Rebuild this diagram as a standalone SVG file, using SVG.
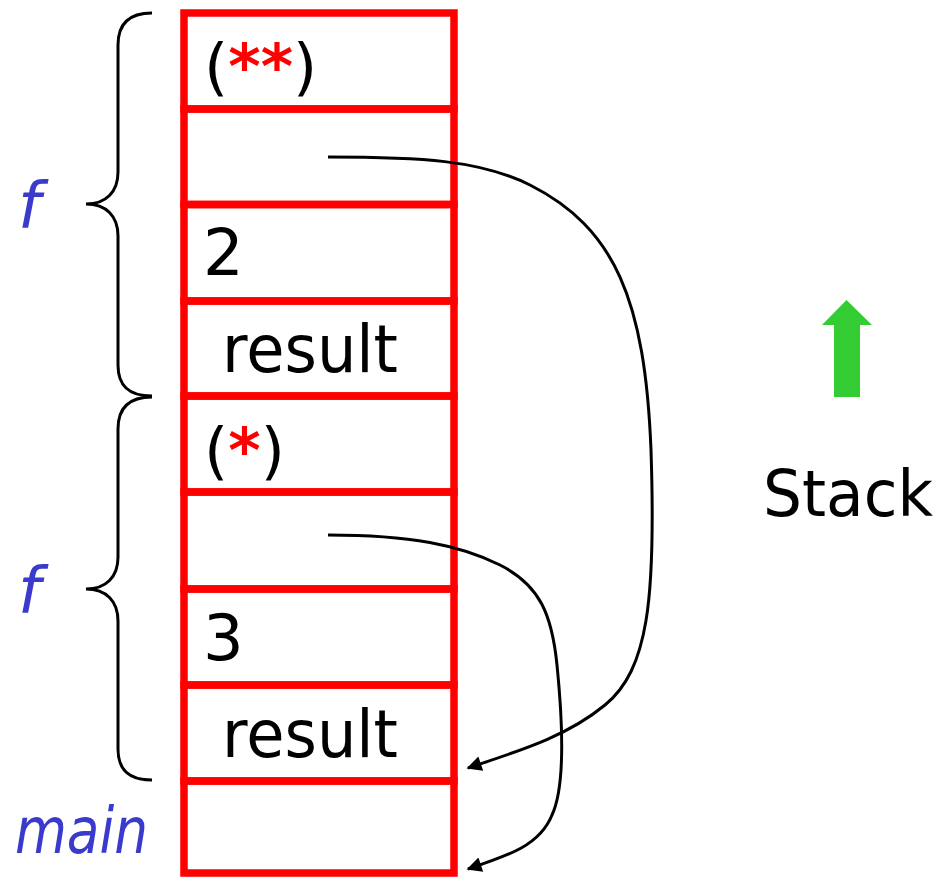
<svg xmlns="http://www.w3.org/2000/svg" width="943" height="877" viewBox="0 0 943 877">
<style>
.cell{fill:none;stroke:#ff0000;stroke-width:7.5}
.t{font-family:"DejaVu Sans","Liberation Sans",sans-serif;fill:#000}
.star{fill:#ff0000;font-weight:bold}
.lbl{font-family:"DejaVu Sans","Liberation Sans",sans-serif;font-style:italic;fill:#3a3acc}
.brace{fill:none;stroke:#000;stroke-width:3}
.conn{fill:none;stroke:#000;stroke-width:3}
</style>
<defs>
<marker id="ah" viewBox="0 0 10 10" refX="9" refY="5" markerWidth="6" markerHeight="5" markerUnits="strokeWidth" orient="auto">
<path d="M0,0 L10,5 L0,10 z" fill="#000"/>
</marker>
</defs>
<rect width="943" height="877" fill="#fff"/>
<g id="cell1"><rect class="cell" x="184" y="13" width="270" height="96"/><text class="t" x="204" y="88" font-size="62">(<tspan class="star">**</tspan>)</text></g>
<g id="cell2"><rect class="cell" x="184" y="109" width="270" height="95.5"/></g>
<g id="cell3"><rect class="cell" x="184" y="204.5" width="270" height="96.5"/><text class="t" x="203" y="275" font-size="64">2</text></g>
<g id="cell4"><rect class="cell" x="184" y="301" width="270" height="95"/><text class="t" x="222" y="372" font-size="66" textLength="176" lengthAdjust="spacingAndGlyphs">result</text></g>
<g id="cell5"><rect class="cell" x="184" y="396" width="270" height="96"/><text class="t" x="204" y="472" font-size="62">(<tspan class="star">*</tspan>)</text></g>
<g id="cell6"><rect class="cell" x="184" y="492" width="270" height="97"/></g>
<g id="cell7"><rect class="cell" x="184" y="589" width="270" height="96"/><text class="t" x="203" y="660" font-size="64">3</text></g>
<g id="cell8"><rect class="cell" x="184" y="685" width="270" height="96"/><text class="t" x="222" y="757" font-size="66" textLength="176" lengthAdjust="spacingAndGlyphs">result</text></g>
<g id="cell9"><rect class="cell" x="184" y="781" width="270" height="92"/></g>
<g id="brace1"><path class="brace" d="M152,13 C128,13 118,25 118,45 L118,172 C118,192 106,204 86,204 C106,204 118,216 118,236 L118,365 C118,385 128,396 152,396"/><text class="lbl" x="18" y="228" font-size="64">f</text></g>
<g id="brace2"><path class="brace" d="M152,397 C128,397 118,409 118,429 L118,557 C118,577 106,589 86,589 C106,589 118,601 118,621 L118,749 C118,769 128,780 152,780"/><text class="lbl" x="18" y="613" font-size="64">f</text></g>
<g id="main"><text class="lbl" x="15" y="853" font-size="64" textLength="133" lengthAdjust="spacingAndGlyphs">main</text></g>
<g id="stack"><path d="M846.5,300 L872,325 L860,325 L860,397 L834,397 L834,325 L822,325 z" fill="#33cc33"/><text class="t" x="763" y="516" font-size="64" textLength="170" lengthAdjust="spacingAndGlyphs">Stack</text></g>
<g id="connectors">
<path class="conn" marker-end="url(#ah)" d="M328,157 C420,157 480,160 530,185 C615,228 645,300 651,450 C656,600 648,670 605,705 C565,738 515,752 468,768"/>
<path class="conn" marker-end="url(#ah)" d="M328,535 C410,535 460,545 500,565 C540,585 552,615 557,665 C562,715 566,785 552,815 C540,845 510,855 468,869"/>
</g>
</svg>
